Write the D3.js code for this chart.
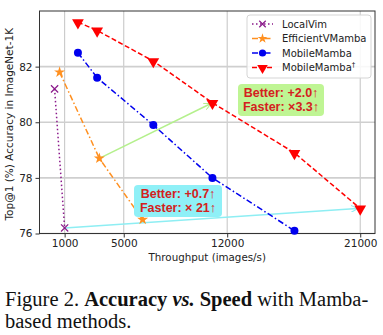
<!DOCTYPE html>
<html><head><meta charset="utf-8">
<script src="https://cdn.jsdelivr.net/npm/d3@7"></script>
<style>
body{margin:0;background:#fff;}
svg{display:block;}
</style></head>
<body>
<svg id="c" width="383" height="335"></svg>
<script>
const xTicks = [1000, 5000, 12000, 21000];
const yTicks = [76, 78, 80, 82];
const seriesNames = ["LocalVim", "EfficientVMamba", "MobileMamba", "MobileMamba"];
const localVimX = [320, 1000];
const localVimY = [81.2, 76.2];
const effX = [660, 3350, 6280];
const effY = [81.8, 78.7, 76.5];
const mmX = [1900, 3200, 7000, 11000, 16550];
const mmY = [82.5, 81.6, 79.9, 78.0, 76.1];
const mmdX = [1900, 3200, 7000, 11000, 16550, 21000];
const mmdY = [83.6, 83.3, 82.2, 80.7, 78.9, 76.9];
const annGreen = ["Better: +2.0\u2191", "Faster: \u00d73.3\u2191"];
const annCyan = ["Better: +0.7\u2191", "Faster: \u00d7 21\u2191"];

const svg = d3.select("#c");
const L = 39.5, R = 375, T = 11, B = 233.5;
const x = d3.scaleLinear().domain([-700, 22000]).range([L, R]);
const y = d3.scaleLinear().domain([76, 84]).range([B, T]);

// grid
const g = svg.append("g");
g.selectAll(".vg").data(xTicks).join("line")
  .attr("x1", d => x(d)).attr("x2", d => x(d)).attr("y1", T).attr("y2", B)
  .attr("stroke", "#c8c8c8").attr("stroke-width", 1.1);
g.selectAll(".hg").data(yTicks).join("line")
  .attr("x1", L).attr("x2", R).attr("y1", d => y(d)).attr("y2", d => y(d))
  .attr("stroke", "#cfcfcf").attr("stroke-width", 1.6);

// axes
const xa = svg.append("g").attr("transform", `translate(0,${B})`)
  .call(d3.axisBottom(x).tickValues(xTicks).tickFormat(d3.format("d")).tickSize(4).tickPadding(2.5));
const ya = svg.append("g").attr("transform", `translate(${L},0)`)
  .call(d3.axisLeft(y).tickValues(yTicks).tickSize(4).tickPadding(3));
[xa, ya].forEach(a => {
  a.select(".domain").remove();
  a.selectAll("text").attr("font-family", "DejaVu Sans").attr("font-size", 10.5).attr("fill", "#222");
  a.selectAll("line").attr("stroke", "#333");
});
svg.append("rect").attr("x", L).attr("y", T).attr("width", R - L).attr("height", B - T)
  .attr("fill", "none").attr("stroke", "#333").attr("stroke-width", 1);

svg.append("text").attr("x", (L + R) / 2 + 0).attr("y", 260.5).attr("text-anchor", "middle")
  .attr("font-family", "DejaVu Sans").attr("font-size", 10.3).attr("fill", "#222")
  .text("Throughput (images/s)");
svg.append("text").attr("transform", `translate(13,${(T + B) / 2 + 2}) rotate(-90)`).attr("text-anchor", "middle")
  .attr("font-family", "DejaVu Sans").attr("font-size", 10.5).attr("fill", "#222")
  .text("Top@1 (%) Accuracy in ImageNet-1K");

// arrows
const defs = svg.append("defs");
function marker(id, col) {
  defs.append("marker").attr("id", id).attr("viewBox", "0 0 10 10").attr("refX", 9).attr("refY", 5)
    .attr("markerWidth", 7).attr("markerHeight", 7).attr("markerUnits", "userSpaceOnUse").attr("orient", "auto")
    .append("path").attr("d", "M0,0 L10,5 L0,10").attr("fill", "none").attr("stroke", col).attr("stroke-width", 1.5);
}
marker("ag", "#b4f08c"); marker("ac", "#8eeef3");
svg.append("line").attr("x1", x(effX[1])).attr("y1", y(effY[1])).attr("x2", x(mmdX[3]) - 2).attr("y2", y(mmdY[3]) + 1)
  .attr("stroke", "#b4f08c").attr("stroke-width", 1.5).attr("marker-end", "url(#ag)");
svg.append("line").attr("x1", x(localVimX[1])).attr("y1", y(localVimY[1])).attr("x2", x(mmdX[5]) - 3).attr("y2", y(mmdY[5]))
  .attr("stroke", "#8eeef3").attr("stroke-width", 1.5).attr("marker-end", "url(#ac)");

// series
const series = [
  {xs: localVimX, ys: localVimY, color: "#8b1a8b", dash: "1.5,2.5", sym: "x"},
  {xs: effX, ys: effY, color: "#ff9020", dash: "6,2.5,1.5,2.5", sym: "star"},
  {xs: mmX, ys: mmY, color: "#0000ee", dash: "6,2.5,1.5,2.5", sym: "circle"},
  {xs: mmdX, ys: mmdY, color: "#ff0000", dash: "5,2.5", sym: "tri"}
];
function drawSym(sel, s, cx, cy, scale) {
  scale = scale || 1;
  if (s.sym === "x") {
    const r = 3.6 * scale;
    sel.append("path").attr("d", `M${cx - r},${cy - r}L${cx + r},${cy + r}M${cx - r},${cy + r}L${cx + r},${cy - r}`)
      .attr("stroke", s.color).attr("stroke-width", 1.2).attr("fill", "none");
  } else if (s.sym === "star") {
    sel.append("path").attr("d", d3.symbol(d3.symbolStar, 38 * scale * scale)())
      .attr("transform", `translate(${cx},${cy})`).attr("fill", s.color);
  } else if (s.sym === "circle") {
    sel.append("circle").attr("cx", cx).attr("cy", cy).attr("r", 4 * scale).attr("fill", s.color);
  } else {
    sel.append("path").attr("d", d3.symbol(d3.symbolTriangle, 60 * scale * scale)())
      .attr("transform", `translate(${cx},${cy + 0.5}) rotate(180)`).attr("fill", s.color);
  }
}
series.forEach(s => {
  const pts = s.xs.map((v, i) => [x(v), y(s.ys[i])]);
  svg.append("path").attr("d", d3.line()(pts)).attr("fill", "none")
    .attr("stroke", s.color).attr("stroke-width", 1.5).attr("stroke-dasharray", s.dash);
  pts.forEach(p => drawSym(svg, s, p[0], p[1]));
});

// annotation boxes
function ann(lines, bx, by, bw, bh, bg) {
  svg.append("rect").attr("x", bx).attr("y", by).attr("width", bw).attr("height", bh)
    .attr("rx", 4).attr("fill", bg);
  lines.forEach((t, i) => svg.append("text").attr("x", bx + bw / 2).attr("y", by + 12.5 + i * 14)
    .attr("text-anchor", "middle").attr("font-family", "Liberation Sans, Arial").attr("font-weight", "bold")
    .attr("font-size", 12.5).attr("fill", "#d42020").text(t));
}
ann(annGreen, 238, 84, 86, 32, "#bff594");
ann(annCyan, 134, 185, 88, 32, "#8ff0f7");

// legend
const lg = svg.append("g");
lg.append("rect").attr("x", 247).attr("y", 15).attr("width", 124).attr("height", 63).attr("rx", 3)
  .attr("fill", "rgba(255,255,255,0.85)").attr("stroke", "#d5d5d5");
series.forEach((s, i) => {
  const yy = 24 + i * 14.5;
  lg.append("line").attr("x1", 252).attr("x2", 273).attr("y1", yy).attr("y2", yy)
    .attr("stroke", s.color).attr("stroke-width", 1.5).attr("stroke-dasharray", s.dash);
  drawSym(lg, s, 262.5, yy, 0.9);
  const t = lg.append("text").attr("x", 282).attr("y", yy + 3.8).attr("font-family", "DejaVu Sans")
    .attr("font-size", 10).attr("fill", "#222").text(seriesNames[i]);
  if (i === 3) t.append("tspan").attr("dy", -4).attr("font-size", 7).text("\u2020");
});

// caption
const cap = svg.append("text").attr("x", 5).attr("y", 306).attr("font-family", "Liberation Serif, Times New Roman")
  .attr("font-size", 20.5).attr("fill", "#111");
cap.append("tspan").text("Figure 2. ");
cap.append("tspan").attr("font-weight", "bold").text("Accuracy ");
cap.append("tspan").attr("font-weight", "bold").attr("font-style", "italic").text("vs.");
cap.append("tspan").attr("font-weight", "bold").text(" Speed");
cap.append("tspan").text(" with Mamba-");
svg.append("text").attr("x", 5).attr("y", 328).attr("font-family", "Liberation Serif, Times New Roman")
  .attr("font-size", 20.5).attr("fill", "#111").text("based methods.");
</script>
</body></html>
